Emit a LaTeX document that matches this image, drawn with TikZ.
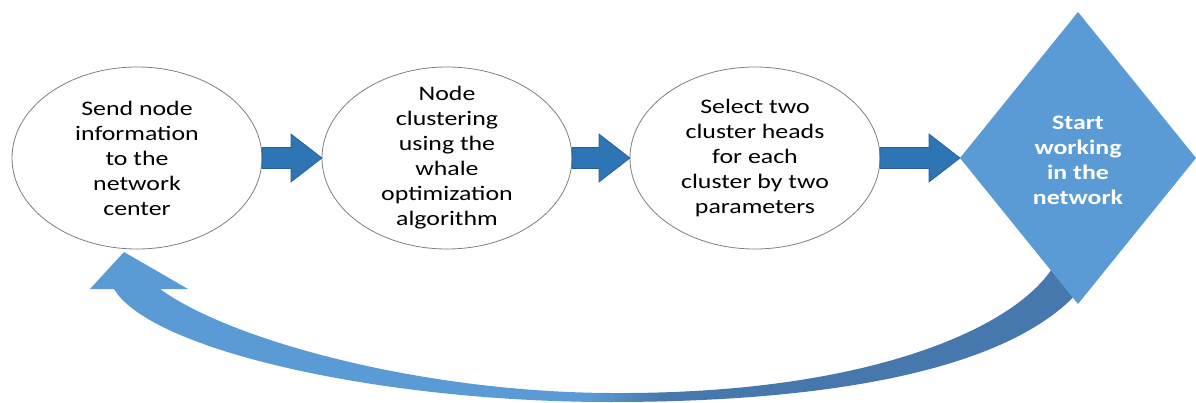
\documentclass[tikz,border=0pt]{standalone}
\usepackage{fontspec}
\setmainfont{Carlito}[FakeStretch=1.25]
\usetikzlibrary{shapes.geometric,calc}

\definecolor{stepline}{HTML}{7F7F7F}
\definecolor{flowfill}{HTML}{2E75B6}
\definecolor{flowedge}{HTML}{2A5E8E}
\definecolor{goalfill}{HTML}{5B9BD5}
\definecolor{bandlight}{HTML}{5B9BD5}
\definecolor{banddark}{HTML}{4677AD}
\pgfdeclarehorizontalshading{returnband}{100bp}{color(0bp)=(bandlight); color(50bp)=(bandlight); color(54bp)=(banddark); color(100bp)=(banddark)}

\tikzset{
  stepnode/.style={ellipse, draw=stepline, line width=0.6pt, fill=white,
    minimum width=187.5pt, minimum height=136.5pt, inner sep=0pt, outer sep=0pt},
  steptext/.style={align=center, inner sep=0pt, text=black,
    font=\fontsize{15.5}{18.75}\selectfont},
  goalnode/.style={diamond, fill=goalfill, minimum width=177pt, minimum height=219pt,
    inner sep=0pt, outer sep=0pt},
  goaltext/.style={align=center, inner sep=0pt, text=white,
    font=\bfseries\fontsize{15.5}{18.75}\selectfont},
  flowarrowstyle/.style={fill=flowfill, draw=flowedge, line width=0.5pt, line join=miter},
}

% block arrow from the east side of #1 to the west point of #2
\newcommand\flowarrow[2]{%
  \filldraw[flowarrowstyle]
    ($(#1.east)+(0,-10.5)$) -- ($(#2.west)+(-31,-10.5)$) -- ($(#2.west)+(-31,-24)$)
    -- (#2.west) -- ($(#2.west)+(-31,24)$) -- ($(#2.west)+(-31,10.5)$)
    -- ($(#1.east)+(0,10.5)$) -- cycle;}

\begin{document}
\begin{tikzpicture}[x=0.75pt,y=-0.75pt]
\useasboundingbox (0,0) rectangle (1196,403);

% curved return arrow running under the diamond back to the first step
\shade[shading=returnband]
  (124,252) -- (188,289) -- (160,289)
  .. controls (230,340) and (420,392) .. (610,393)
  .. controls (900,395) and (1050,310) .. (1062,245)
  -- (1080,290)
  .. controls (1010,370) and (830,402) .. (610,402)
  .. controls (380,402) and (150,350) .. (114,289)
  -- (90,289) -- cycle;

% process steps
\node[stepnode] (send) at (137,158) {};
\node[steptext] (send-t) at (send) {Send node\\information\\to the\\network\\center};
\node[stepnode] (cluster) at (447,158) {};
\node[steptext] (cluster-t) at (cluster) {Node\\clustering\\using the\\whale\\optimization\\algorithm};
\node[stepnode] (select) at (755,158) {};
\node[steptext] (select-t) at (select) {Select two\\cluster heads\\for each\\cluster by two\\parameters};
\node[goalnode] (start) at (1078,158) {};
\node[goaltext] (start-t) at ($(start)+(0,2)$) {Start\\working\\in the\\network};

% forward arrows
\flowarrow{send}{cluster}
\flowarrow{cluster}{select}
\flowarrow{select}{start}
\end{tikzpicture}
\end{document}
